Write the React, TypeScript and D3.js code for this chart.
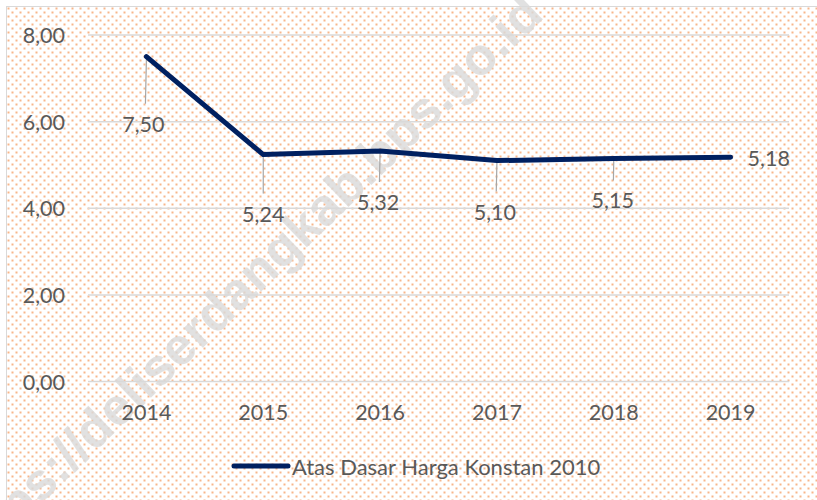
import React from "react";
import * as d3 from "d3";

const years = ["2014", "2015", "2016", "2017", "2018", "2019"];
const values = [7.5, 5.24, 5.32, 5.1, 5.15, 5.18];
const yTicks = [0, 2, 4, 6, 8];
const seriesName = "Atas Dasar Harga Konstan 2010";
const watermark = "https://deliserdangkab.bps.go.id";

// label placement (layout, not data): [dx, dy of label center, leader end dy]
const labelLayout: { dx: number; dy: number; lead: number; side?: boolean }[] = [
  { dx: -3, dy: 67, lead: 47 },
  { dx: 0, dy: 59, lead: 39 },
  { dx: -2, dy: 51, lead: 31 },
  { dx: -2, dy: 51, lead: 31 },
  { dx: -1, dy: 42, lead: 22 },
  { dx: 17, dy: 1, lead: 0, side: true },
];

const W = 817;
const H = 500;
const FONT = "Lato, 'Open Sans', sans-serif";
const TXT = "#595959";
const FS = 21.5;
const fmt = (v: number) => d3.format(".2f")(v).replace(".", ",");

export default function App() {
  const x = d3.scaleBand<string>().domain(years).range([88, 789]);
  const y = d3.scaleLinear().domain([0, 8]).range([381.5, 35]);
  const cx = (yr: string) => (x(yr) as number) + x.bandwidth() / 2;
  const line = d3
    .line<number>()
    .x((_, i) => cx(years[i]))
    .y((v) => y(v));

  return (
    <svg
      width={W}
      height={H}
      style={{ position: "absolute", left: 0, top: 0, display: "block" }}
    >
      <defs>
        <pattern id="dots" width={8} height={8} patternUnits="userSpaceOnUse" x={7} y={7}>
          <rect x={0} y={0} width={8} height={8} fill="#ffffff" />
          <rect x={0.5} y={0.5} width={2} height={2} fill="#f7b68a" />
          <rect x={4.5} y={4.5} width={2} height={2} fill="#f7b68a" />
        </pattern>
      </defs>
      <rect x={0} y={0} width={W} height={H} fill="#ffffff" />
      <rect x={6.5} y={6.5} width={W + 20} height={H + 20} fill="url(#dots)" stroke="#d9d9d9" strokeWidth={1} />

      <text
        x={245}
        y={282}
        transform="rotate(-44 245 282)"
        textAnchor="middle"
        dominantBaseline="central"
        fontFamily="'Liberation Sans', Arial, sans-serif"
        fontWeight="bold"
        fontSize={52}
        fill="#d9d9d9"
        fillOpacity={0.8}
      >
        {watermark}
      </text>

      {yTicks.map((t) => (
        <g key={t}>
          <line x1={88} x2={789} y1={y(t)} y2={y(t)} stroke="#d9d9d9" strokeWidth={1.5} />
          <text
            x={65}
            y={y(t)}
            textAnchor="end"
            dominantBaseline="central"
            fontFamily={FONT}
            fontSize={FS}
            fill={TXT}
          >
            {fmt(t)}
          </text>
        </g>
      ))}

      {years.map((yr) => (
        <text
          key={yr}
          x={cx(yr)}
          y={412}
          textAnchor="middle"
          dominantBaseline="central"
          fontFamily={FONT}
          fontSize={FS}
          fill={TXT}
        >
          {yr}
        </text>
      ))}

      {values.map((v, i) => {
        const L = labelLayout[i];
        const px = cx(years[i]);
        const py = y(v);
        return (
          <g key={i}>
            {!L.side && (
              <line x1={px} x2={px + L.dx / 3} y1={py + 2} y2={py + L.lead} stroke="#a6a6a6" strokeWidth={1.2} />
            )}
            <text
              x={px + L.dx}
              y={py + L.dy}
              textAnchor={L.side ? "start" : "middle"}
              dominantBaseline="central"
              fontFamily={FONT}
              fontSize={FS}
              fill={TXT}
            >
              {fmt(v)}
            </text>
          </g>
        );
      })}

      <path
        d={line(values) || ""}
        fill="none"
        stroke="#002060"
        strokeWidth={5}
        strokeLinejoin="round"
        strokeLinecap="round"
      />

      <line x1={234} x2={288} y1={466} y2={466} stroke="#002060" strokeWidth={5} strokeLinecap="round" />
      <text x={292} y={466} dominantBaseline="central" fontFamily={FONT} fontSize={22} fill={TXT}>
        {seriesName}
      </text>
    </svg>
  );
}
